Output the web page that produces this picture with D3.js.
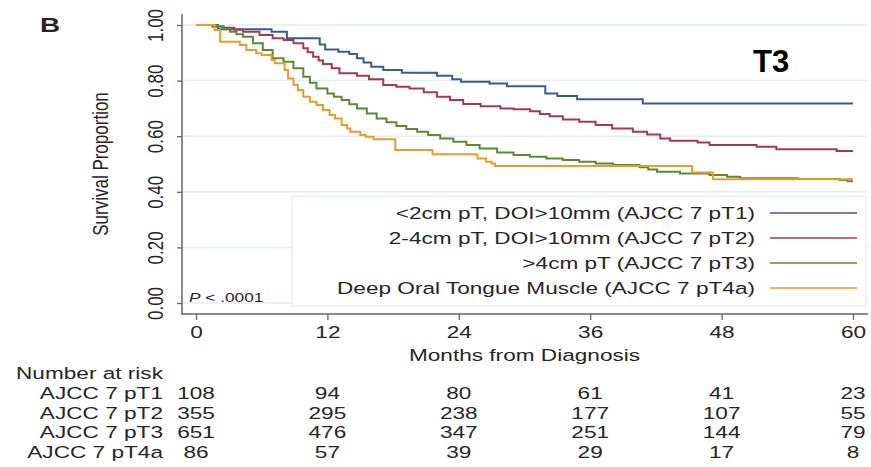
<!DOCTYPE html>
<html>
<head>
<meta charset="utf-8">
<script src="https://cdn.jsdelivr.net/npm/d3@7"></script>
<style>
  html, body { margin: 0; padding: 0; background: #fff; }
  svg { display: block; }
  text { font-family: "Liberation Sans", Arial, Helvetica, sans-serif; fill: #262626; }
</style>
</head>
<body>
<svg id="chart" width="871" height="467"></svg>
<script>
// Kaplan-Meier step points [months, survival proportion] for each group
const pT1 = [[0,1],[2,0.985],[6.9,0.976],[8.3,0.952],[11.3,0.93],[11.8,0.912],[13,0.904],[14,0.896],[14.7,0.88],[15.3,0.865],[16,0.85],[17.1,0.838],[18.8,0.828],[22,0.817],[23.4,0.805],[24.2,0.796],[26.8,0.79],[28.4,0.78],[31.9,0.754],[33,0.745],[34.8,0.733],[40.8,0.718],[60,0.718]];
const pT2 = [[0,1],[1.5,0.995],[2.5,0.99],[3.5,0.983],[4.3,0.976],[5.8,0.964],[7,0.952],[8,0.946],[8.9,0.934],[9.8,0.916],[10.2,0.902],[10.7,0.886],[11.2,0.872],[11.6,0.86],[12.4,0.844],[13.1,0.826],[14.7,0.817],[15.8,0.805],[17.1,0.784],[18.3,0.778],[19.5,0.772],[20.8,0.758],[22,0.742],[23.2,0.73],[24.4,0.716],[26,0.708],[27.8,0.70],[29,0.697],[30.5,0.69],[31.4,0.68],[32.3,0.672],[33.5,0.66],[35,0.652],[36.5,0.64],[38,0.628],[39.9,0.616],[41.2,0.606],[42.4,0.592],[43.3,0.584],[45.8,0.577],[46.9,0.568],[51.2,0.562],[53,0.553],[58.5,0.547],[60,0.547]];
const pT3 = [[0,1],[1.9,0.995],[2.5,0.985],[3.1,0.976],[3.7,0.967],[4.3,0.958],[5.2,0.934],[6.1,0.91],[7,0.88],[8,0.868],[8.9,0.844],[9.8,0.814],[10.4,0.792],[11,0.772],[12,0.754],[12.6,0.742],[13.3,0.73],[14,0.715],[14.7,0.70],[15.6,0.682],[16.5,0.664],[17.4,0.65],[18.3,0.637],[19.2,0.626],[20.2,0.616],[21.2,0.604],[22.3,0.592],[23.5,0.58],[24.7,0.568],[25.9,0.556],[27.5,0.541],[29,0.532],[30.5,0.526],[32,0.52],[33.5,0.514],[35,0.508],[36.5,0.502],[38.1,0.496],[40.5,0.488],[41.3,0.48],[42.1,0.472],[44.2,0.466],[46.9,0.46],[48.5,0.454],[49.7,0.449],[55,0.446],[58.8,0.442],[59.5,0.438],[60,0.438]];
const pT4a = [[0,1],[1.7,0.982],[2.2,0.94],[4,0.928],[4.6,0.91],[5.5,0.898],[6,0.892],[6.9,0.874],[7.2,0.862],[8.1,0.838],[8.4,0.808],[8.9,0.784],[9.3,0.766],[9.8,0.742],[10.4,0.724],[11,0.712],[11.6,0.694],[12.2,0.676],[12.7,0.664],[13.3,0.64],[13.8,0.628],[14.1,0.616],[15,0.604],[15.5,0.598],[16.2,0.589],[18.2,0.55],[21.6,0.535],[25.7,0.52],[26.5,0.508],[27,0.502],[27.3,0.493],[45.3,0.469],[47.2,0.445],[60,0.445]];

const seriesNames = ["<2cm pT, DOI>10mm (AJCC 7 pT1)", "2-4cm pT, DOI>10mm (AJCC 7 pT2)", ">4cm pT (AJCC 7 pT3)", "Deep Oral Tongue Muscle (AJCC 7 pT4a)"];
const seriesColors = ["#3a5a9c", "#a23c4c", "#5a8a36", "#ec9a2c"];

// Number-at-risk table
const riskLabels = ["AJCC 7 pT1", "AJCC 7 pT2", "AJCC 7 pT3", "AJCC 7 pT4a"];
const riskTimes = [0, 12, 24, 36, 48, 60];
const riskCounts = [
  [108, 94, 80, 61, 41, 23],
  [355, 295, 238, 177, 107, 55],
  [651, 476, 347, 251, 144, 79],
  [86, 57, 39, 29, 17, 8]
];

const xTicks = [0, 12, 24, 36, 48, 60];
const yTicks = [0, 0.2, 0.4, 0.6, 0.8, 1.0];

const SX = 1.33; // horizontal text stretch
const svg = d3.select("#chart");
const x = d3.scaleLinear().domain([0, 60]).range([196, 853]);
const y = d3.scaleLinear().domain([0, 1]).range([303, 25]);

function label(g, txt, px, py, opts = {}) {
  const t = g.append("text")
    .attr("transform", `translate(${px},${py}) scale(${SX},1)` + (opts.rotate ? " rotate(-90)" : ""))
    .attr("text-anchor", opts.anchor || "start")
    .style("font-size", (opts.size || 17) + "px")
    .text(txt);
  if (opts.weight) t.style("font-weight", opts.weight);
  return t;
}

// grid lines
svg.append("g").selectAll("line").data(yTicks).join("line")
  .attr("x1", 183).attr("x2", 868)
  .attr("y1", d => y(d)).attr("y2", d => y(d))
  .attr("stroke", "#e3edf0").attr("stroke-width", 1.5);

// survival curves
const line = d3.line().x(d => x(d[0])).y(d => y(d[1])).curve(d3.curveStepAfter);
[pT1, pT2, pT3, pT4a].forEach((s, i) => {
  svg.append("path").datum(s)
    .attr("d", line)
    .attr("fill", "none")
    .attr("stroke", seriesColors[i])
    .attr("stroke-width", 2);
});

// legend
const lg = svg.append("g");
lg.append("rect").attr("x", 292).attr("y", 196).attr("width", 574).attr("height", 110)
  .attr("fill", "#fff").attr("stroke", "#e3eaee").attr("stroke-width", 1.2);
seriesNames.forEach((n, i) => {
  const cy = 213 + i * 25;
  label(lg, n, 755, cy + 6, { anchor: "end" });
  lg.append("line").attr("x1", 770).attr("x2", 857).attr("y1", cy).attr("y2", cy)
    .attr("stroke", seriesColors[i]).attr("stroke-width", 1.7);
});

// p-value
const pg = svg.append("g");
const pt = pg.append("text")
  .attr("transform", `translate(189,302) scale(${SX},1)`)
  .style("font-size", "13px");
pt.append("tspan").style("font-style", "italic").text("P");
pt.append("tspan").text(" < .0001");

// axes
const yAxis = svg.append("g").attr("transform", "translate(182,0)")
  .call(d3.axisLeft(y).tickValues(yTicks).tickFormat(d3.format(".2f")).tickSize(5).tickSizeOuter(0));
yAxis.select(".domain").remove();
yAxis.selectAll(".tick line").attr("stroke", "#666").attr("stroke-width", 1.3);
yAxis.selectAll(".tick text")
  .attr("x", null).attr("dy", null)
  .attr("transform", `translate(-19,0) scale(${SX},1) rotate(-90)`)
  .attr("text-anchor", "middle")
  .style("font-size", "17px").style("font-family", null).attr("fill", "#262626");

const xAxis = svg.append("g").attr("transform", "translate(0,314)")
  .call(d3.axisBottom(x).tickValues(xTicks).tickSize(6).tickSizeOuter(0));
xAxis.select(".domain").remove();
xAxis.selectAll(".tick line").attr("stroke", "#666").attr("stroke-width", 1.3);
xAxis.selectAll(".tick text")
  .attr("y", null).attr("dy", null)
  .attr("transform", `translate(0,24) scale(${SX},1)`)
  .attr("text-anchor", "middle")
  .style("font-size", "17px").style("font-family", null).attr("fill", "#262626");

svg.append("line").attr("x1", 182).attr("x2", 182).attr("y1", 14).attr("y2", 314.7)
  .attr("stroke", "#666").attr("stroke-width", 1.5);
svg.append("line").attr("x1", 181.3).attr("x2", 868).attr("y1", 314).attr("y2", 314)
  .attr("stroke", "#666").attr("stroke-width", 1.5);

// titles
label(svg, "Survival Proportion", 108, 164, { anchor: "middle", rotate: true });
label(svg, "Months from Diagnosis", (x(0) + x(60)) / 2, 361, { anchor: "middle" });
label(svg, "B", 40, 32, { size: 21, weight: "bold" });
svg.append("text").attr("x", 753).attr("y", 72)
  .style("font-size", "31px").style("font-weight", "bold").style("fill", "#000").text("T3");

// number at risk table
const rt = svg.append("g");
label(rt, "Number at risk", 16, 379);
riskLabels.forEach((lab, i) => {
  const by = 399 + i * 19.6;
  label(rt, lab, 163, by, { anchor: "end" });
  riskCounts[i].forEach((c, j) => label(rt, String(c), x(riskTimes[j]), by, { anchor: "middle" }));
});
</script>
</body>
</html>
